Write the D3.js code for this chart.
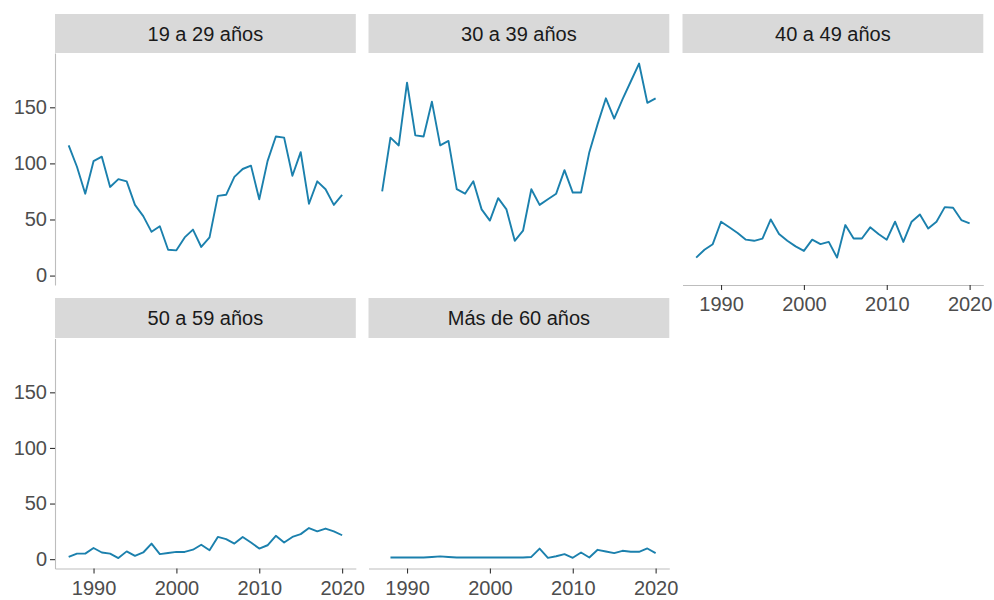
<!DOCTYPE html>
<html>
<head>
<meta charset="utf-8">
<script src="https://cdn.jsdelivr.net/npm/d3@7"></script>
<style>
  html, body { margin: 0; padding: 0; background: #ffffff; }
  svg { display: block; font-family: "Liberation Sans", Arial, Helvetica, sans-serif; }
</style>
</head>
<body>
<svg id="chart" width="994" height="600"></svg>
<script>
// ---- Data ----
const years = [1987,1988,1989,1990,1991,1992,1993,1994,1995,1996,1997,1998,1999,2000,2001,2002,2003,2004,2005,2006,2007,2008,2009,2010,2011,2012,2013,2014,2015,2016,2017,2018,2019,2020];
const groupNames = ["19 a 29 años", "30 a 39 años", "40 a 49 años", "50 a 59 años", "Más de 60 años"];
const g19_29 = [116,97,73,102,106,79,86,84,63,53,39,44,23,22.5,34,41,25.5,34,71,72,88,95,98,68,102,124,123,89,110,64,84,77,63,72];
const g30_39 = [75,123,116,172,125,124,155,116,120,77,73,84,59,49,69,59,31,40,77,63,68,73,94,74,74,110,135,158,140,157,173,189,154,158];
const g40_49 = [16,23,28,48,43,38,32,31,33,50,37,31,26,22,32,28,30,16,45,33,33,43,37,32,48,30,48,54.5,42,48,61,60.5,49.5,46.5];
const g50_59 = [2,5,5,10,6,5,1,7,3,6,14,4.5,5.5,6.5,6.5,8.5,13,8,20,18,14,20,15,9.5,12.5,21,15,20,22.5,28,25,27.5,25,21.5];
const g60 = [null,1.5,1.5,1.5,1.5,1.5,2,2.5,2,1.5,1.5,1.5,1.5,1.5,1.5,1.5,1.5,1.5,2,9.5,1.2,2.6,4.5,1.2,6,1.5,8.4,6.9,5.4,7.5,6.6,6.6,9.6,5.4];
const xTicks = [1990, 2000, 2010, 2020];
const yTicks = [0, 50, 100, 150];

const seriesList = [g19_29, g30_39, g40_49, g50_59, g60];

// ---- Layout ----
const colLeft = [55, 368.5, 682.5];
const panelW = 300.8;
const rows = [
  { stripTop: 14, stripBot: 53, plotTop: 53, plotBot: 285 },
  { stripTop: 298, stripBot: 338, plotTop: 338.5, plotBot: 568.5 }
];
// panel placement: [col,row, showY, showX]
const placement = [
  { col: 0, row: 0, showY: true,  showX: false },
  { col: 1, row: 0, showY: false, showX: false },
  { col: 2, row: 0, showY: false, showX: true },
  { col: 0, row: 1, showY: true,  showX: true },
  { col: 1, row: 1, showY: false, showX: true }
];

const lineColor = "#1b80ad";
const stripFill = "#d9d9d9";
const axisLineColor = "#bdbdbd";
const tickColor = "#333333";
const tickTextColor = "#4d4d4d";

// shared scales domains (ggplot-like 5% expansion)
const allVals = seriesList.flat().filter(v => v !== null);
const yMin = d3.min(allVals), yMax = d3.max(allVals);
const yPad = (yMax - yMin) * 0.05;
const xMinD = d3.min(years), xMaxD = d3.max(years);
const xPad = (xMaxD - xMinD) * 0.05;

const svg = d3.select("#chart");

placement.forEach((p, i) => {
  const x0 = colLeft[p.col];
  const r = rows[p.row];
  const g = svg.append("g");

  const x = d3.scaleLinear().domain([xMinD - xPad, xMaxD + xPad]).range([x0, x0 + panelW]);
  const y = d3.scaleLinear().domain([yMin - yPad, yMax + yPad]).range([r.plotBot, r.plotTop]);

  // strip
  g.append("rect")
    .attr("x", x0).attr("y", r.stripTop)
    .attr("width", panelW).attr("height", r.stripBot - r.stripTop)
    .attr("fill", stripFill);
  g.append("text")
    .attr("x", x0 + panelW / 2).attr("y", (r.stripTop + r.stripBot) / 2)
    .attr("text-anchor", "middle").attr("dominant-baseline", "central")
    .attr("font-size", 20).attr("fill", "#1a1a1a")
    .text(groupNames[i]);

  // y axis
  if (p.showY) {
    const ya = g.append("g").attr("transform", `translate(${x0},0)`)
      .call(d3.axisLeft(y).tickValues(yTicks).tickSize(5).tickSizeOuter(0).tickPadding(3));
    ya.select(".domain").attr("stroke", axisLineColor).attr("stroke-width", 1.1);
    ya.selectAll(".tick line").attr("stroke", tickColor).attr("stroke-width", 1.1);
    ya.selectAll(".tick text").attr("fill", tickTextColor).attr("font-size", 20)
      .attr("font-family", "Liberation Sans, Arial, sans-serif");
  }
  // x axis
  if (p.showX) {
    const xa = g.append("g").attr("transform", `translate(0,${r.plotBot})`)
      .call(d3.axisBottom(x).tickValues(xTicks).tickFormat(d3.format("d")).tickSize(5).tickSizeOuter(0).tickPadding(7));
    xa.select(".domain").attr("stroke", axisLineColor).attr("stroke-width", 1.1);
    xa.selectAll(".tick line").attr("stroke", tickColor).attr("stroke-width", 1.1);
    xa.selectAll(".tick text").attr("fill", tickTextColor).attr("font-size", 20)
      .attr("font-family", "Liberation Sans, Arial, sans-serif");
  }

  // line
  const data = years.map((yr, k) => ({ yr, v: seriesList[i][k] }));
  const line = d3.line()
    .defined(d => d.v !== null)
    .x(d => x(d.yr))
    .y(d => y(d.v));
  g.append("path")
    .datum(data)
    .attr("d", line)
    .attr("fill", "none")
    .attr("stroke", lineColor)
    .attr("stroke-width", 1.9)
    .attr("stroke-linejoin", "round");
});
</script>
</body>
</html>
